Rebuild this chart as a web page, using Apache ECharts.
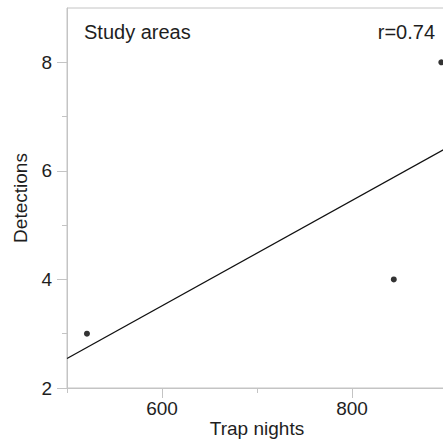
<!DOCTYPE html>
<html>
<head>
<meta charset="utf-8">
<script src="https://cdn.jsdelivr.net/npm/echarts@6/dist/echarts.min.js"></script>
<style>
  html, body { margin: 0; padding: 0; background: #fff; }
  #chart { width: 443px; height: 442px; }
</style>
</head>
<body>
<div id="chart"></div>
<script>
// Study areas: trap nights vs detections
const trapNights = [521, 844, 894];
const detections = [3, 4, 8];
const xMajorTicks = [600, 800];
const xMinorTicks = [500, 700, 900];
const yMajorTicks = [2, 4, 6, 8];
const panelTitle = 'Study areas';
const corrLabel = 'r=0.74';
const xName = 'Trap nights';
const yName = 'Detections';

// least-squares fit line across the axis range
function fitLine(xs, ys) {
  const n = xs.length;
  const mx = xs.reduce((a, b) => a + b, 0) / n;
  const my = ys.reduce((a, b) => a + b, 0) / n;
  let sxy = 0, sxx = 0;
  for (let i = 0; i < n; i++) {
    sxy += (xs[i] - mx) * (ys[i] - my);
    sxx += (xs[i] - mx) * (xs[i] - mx);
  }
  const slope = sxy / sxx;
  return x => my + slope * (x - mx);
}
const xMin = 500, xMax = 900, yMin = 2, yMax = 9;
const f = fitLine(trapNights, detections);
const fitData = [[xMin, f(xMin)], [xMax, f(xMax)]];

const FONT = '"Liberation Sans", Arial, Helvetica, sans-serif';
const AXIS_COLOR = '#c4c4c4';
const TEXT_COLOR = '#1e1e1e';

const chart = echarts.init(document.getElementById('chart'), null, { renderer: 'svg' });
chart.setOption({
  animation: false,
  backgroundColor: '#ffffff',
  grid: {
    left: 67, top: 8, width: 380, height: 380,
    outerBoundsMode: 'none',
    show: true, borderColor: AXIS_COLOR, borderWidth: 1, backgroundColor: 'transparent'
  },
  xAxis: [
    {
      type: 'value', min: xMin, max: xMax,
      name: xName, nameLocation: 'middle', nameGap: 31, nameMoveOverlap: false,
      nameTextStyle: { fontFamily: FONT, fontSize: 19, color: TEXT_COLOR },
      axisLine: { show: true, lineStyle: { color: AXIS_COLOR, width: 1 } },
      axisTick: { show: true, length: 10, customValues: xMajorTicks, lineStyle: { color: AXIS_COLOR, width: 1 } },
      axisLabel: { customValues: xMajorTicks, fontFamily: FONT, fontSize: 19, color: TEXT_COLOR, margin: 11 },
      splitLine: { show: false }
    },
    {
      type: 'value', min: xMin, max: xMax, position: 'bottom', gridIndex: 0,
      axisLine: { show: false },
      axisTick: { show: true, length: 5, customValues: xMinorTicks, lineStyle: { color: AXIS_COLOR, width: 1 } },
      axisLabel: { show: false },
      splitLine: { show: false }
    }
  ],
  yAxis: {
    type: 'value', min: yMin, max: yMax, interval: 2,
    axisLine: { show: true, lineStyle: { color: AXIS_COLOR, width: 1 } },
    axisTick: { show: true, length: 10, customValues: yMajorTicks, lineStyle: { color: AXIS_COLOR, width: 1 } },
    minorTick: { show: true, splitNumber: 2, length: 5, lineStyle: { color: AXIS_COLOR, width: 1 } },
    axisLabel: { customValues: yMajorTicks, fontFamily: FONT, fontSize: 19, color: TEXT_COLOR, margin: 15 },
    splitLine: { show: false }
  },
  series: [
    {
      type: 'line',
      data: fitData,
      showSymbol: false,
      lineStyle: { color: '#111', width: 1.3 },
      silent: true
    },
    {
      type: 'scatter',
      data: trapNights.map((x, i) => [x, detections[i]]),
      symbol: 'circle',
      symbolSize: 6,
      itemStyle: { color: '#000' }
    }
  ],
  graphic: [
    {
      type: 'text', left: 84, top: 22,
      style: { text: panelTitle, fontFamily: FONT, fontSize: 20, fill: TEXT_COLOR }
    },
    {
      type: 'text', right: 8, top: 22,
      style: { text: corrLabel, fontFamily: FONT, fontSize: 20, fill: TEXT_COLOR }
    },
    {
      type: 'text', x: 20, y: 198, rotation: Math.PI / 2,
      style: { text: yName, fontFamily: FONT, fontSize: 19, fill: TEXT_COLOR, align: 'center', verticalAlign: 'middle' }
    }
  ]
});
</script>
</body>
</html>
